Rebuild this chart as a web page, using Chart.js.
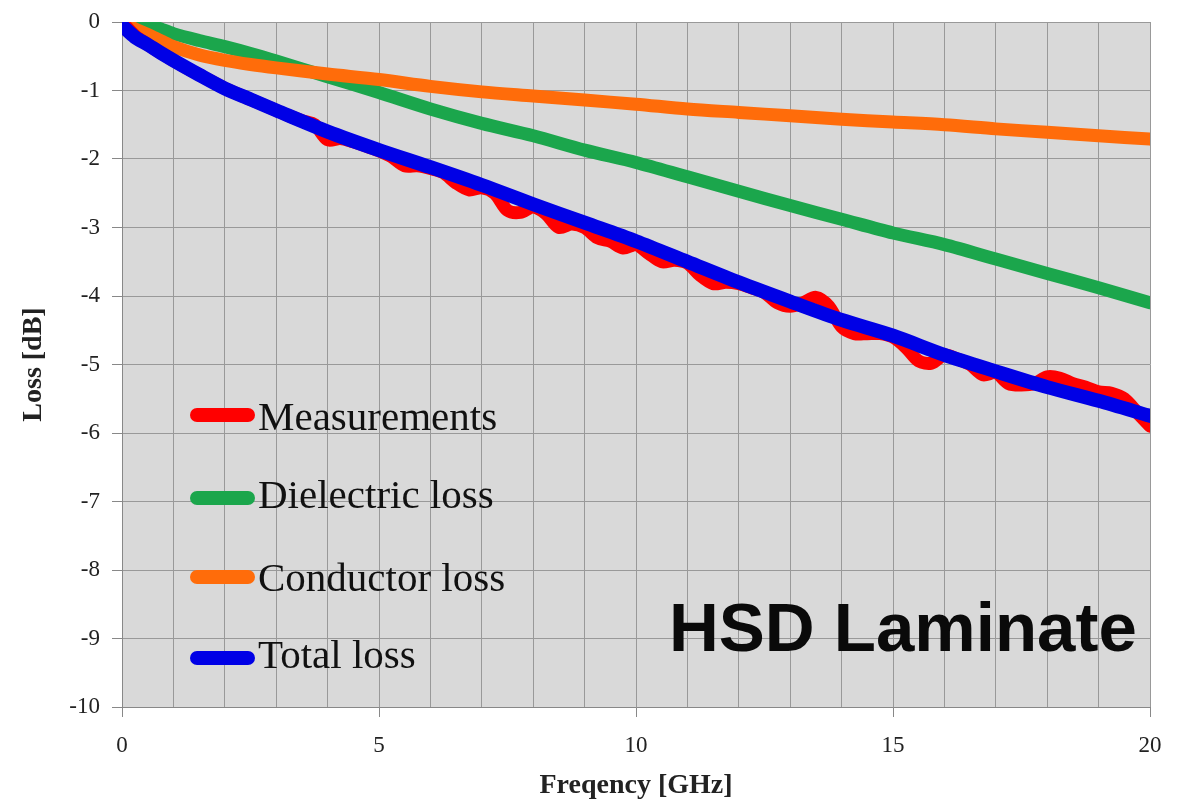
<!DOCTYPE html>
<html>
<head>
<meta charset="utf-8">
<script src="https://cdn.jsdelivr.net/npm/chart.js@4.4.1/dist/chart.umd.min.js"></script>
<style>
  html, body { margin: 0; padding: 0; background: #fff; }
  #wrap { position: relative; width: 1183px; height: 801px; overflow: hidden; }
  #chart { position: absolute; left: 0; top: 0; }
  .leg-line { position: absolute; left: 190px; width: 65px; height: 14px; border-radius: 7px; }
  .leg-text { position: absolute; left: 258px; font: 41px/1 'Liberation Serif', serif; color: #111; white-space: nowrap; }
  #label { position: absolute; left: 669px; top: 593px; font: bold 69px/1 'Liberation Sans', Arial, sans-serif; color: #0a0a0a; white-space: nowrap; }
</style>
</head>
<body>
<div id="wrap">
  <canvas id="chart" width="1183" height="801"></canvas>
  <div class="leg-line" style="top:408px;background:#ff0000"></div>
  <div class="leg-text" style="top:396px">Measurements</div>
  <div class="leg-line" style="top:491px;background:#1ba64c"></div>
  <div class="leg-text" style="top:474px">Dielectric loss</div>
  <div class="leg-line" style="top:570px;background:#ff6c0a"></div>
  <div class="leg-text" style="top:557px">Conductor loss</div>
  <div class="leg-line" style="top:651px;background:#0000e6"></div>
  <div class="leg-text" style="top:634px">Total loss</div>
  <div id="label">HSD Laminate</div>
</div>
<script>
// Model curves (GHz / dB)
const freqModel = [0, 0.25, 0.5, 0.75, 1, 1.5, 2, 2.5, 3, 4, 5, 6, 7, 8, 9, 10, 11, 12, 13, 14, 15, 16, 17, 18, 19, 20];
const totalLoss = [-0.05, -0.22, -0.33, -0.45, -0.56, -0.77, -0.97, -1.13, -1.29, -1.6, -1.87, -2.12, -2.38, -2.66, -2.93, -3.2, -3.5, -3.8, -4.08, -4.35, -4.58, -4.86, -5.1, -5.33, -5.53, -5.75];
const dielectricLoss = [0, 0, -0.03, -0.1, -0.17, -0.27, -0.36, -0.46, -0.57, -0.8, -1.03, -1.27, -1.48, -1.66, -1.87, -2.05, -2.26, -2.47, -2.68, -2.88, -3.08, -3.25, -3.46, -3.67, -3.88, -4.1];
const conductorLoss = [0, -0.1, -0.18, -0.27, -0.36, -0.48, -0.56, -0.62, -0.67, -0.76, -0.84, -0.94, -1.02, -1.08, -1.14, -1.2, -1.27, -1.32, -1.37, -1.42, -1.46, -1.5, -1.56, -1.61, -1.66, -1.71];

// Measured data
const freqMeas = [0, 0.25, 0.5, 0.75, 1, 1.25, 1.5, 1.75, 2, 2.25, 2.5, 2.75, 3, 3.25, 3.5, 3.75,
  4, 4.25, 4.5, 4.75, 5, 5.25, 5.5, 5.75, 6, 6.25, 6.5, 6.75, 7, 7.25, 7.5, 7.75,
  8, 8.25, 8.5, 8.75, 9, 9.25, 9.5, 9.75, 10, 10.25, 10.5, 10.75, 11, 11.25, 11.5, 11.75,
  12, 12.25, 12.5, 12.75, 13, 13.25, 13.5, 13.75, 14, 14.25, 14.5, 14.75, 15, 15.25, 15.5, 15.75,
  16, 16.25, 16.5, 16.75, 17, 17.25, 17.5, 17.75, 18, 18.25, 18.5, 18.75, 19, 19.25, 19.5, 19.75, 20];
const measured = [0, -0.2, -0.33, -0.45, -0.56, -0.67, -0.77, -0.87, -0.97, -1.05, -1.13, -1.21, -1.29, -1.37, -1.44, -1.5,
  -1.72, -1.7, -1.75, -1.81, -1.88, -1.97, -2.1, -2.1, -2.14, -2.2, -2.35, -2.45, -2.42, -2.5, -2.75, -2.78,
  -2.7, -2.8, -3.0, -2.95, -3.0, -3.15, -3.2, -3.3, -3.25, -3.38, -3.5, -3.48, -3.52, -3.7, -3.82, -3.8,
  -3.82, -3.88, -3.95, -4.1, -4.15, -4.1, -4.02, -4.15, -4.45, -4.55, -4.55, -4.55, -4.6, -4.75, -4.95, -4.98,
  -4.86, -4.92, -5.0, -5.15, -5.12, -5.28, -5.3, -5.28, -5.18, -5.2, -5.28, -5.33, -5.4, -5.42, -5.5, -5.7, -5.9];

const yTicks = [0, -1, -2, -3, -4, -5, -6, -7, -8, -9, -10];
const xLabelTicks = [0, 5, 10, 15, 20];

function pts(xs, ys) {
  return xs.map((x, i) => ({ x: x, y: ys[i] }));
}

function lineSet(label, xs, ys, color, width) {
  return {
    label: label,
    data: pts(xs, ys),
    borderColor: color,
    backgroundColor: color,
    borderWidth: width,
    borderCapStyle: 'round',
    borderJoinStyle: 'round',
    pointRadius: 0,
    tension: 0.3,
    fill: false
  };
}

// grey plot background
const plotBg = {
  id: 'plotBg',
  beforeDraw(chart) {
    const a = chart.chartArea;
    const c = chart.ctx;
    c.save();
    c.fillStyle = '#d9d9d9';
    c.fillRect(a.left, a.top, a.right - a.left, a.bottom - a.top);
    c.restore();
  }
};

const tickFont = { family: "'Liberation Serif', serif", size: 23 };
const titleFont = { family: "'Liberation Serif', serif", size: 28, weight: 'bold', lineHeight: 1 };

new Chart(document.getElementById('chart'), {
  type: 'line',
  data: {
    datasets: [
      lineSet('Total loss', freqModel, totalLoss, '#0000e6', 14),
      lineSet('Measurements', freqMeas, measured, '#ff0000', 13),
      lineSet('Conductor loss', freqModel, conductorLoss, '#ff6c0a', 13),
      lineSet('Dielectric loss', freqModel, dielectricLoss, '#1ba64c', 13)
    ]
  },
  options: {
    responsive: false,
    animation: false,
    layout: { padding: { top: 22, right: 33, left: 0, bottom: 0 } },
    plugins: { legend: { display: false }, tooltip: { enabled: false } },
    scales: {
      x: {
        type: 'linear',
        min: 0,
        max: 20,
        afterFit(scale) { scale.height = 94; },
        ticks: {
          stepSize: 1,
          autoSkip: false,
          maxRotation: 0,
          padding: 15,
          color: '#222',
          font: tickFont,
          callback: v => xLabelTicks.includes(v) ? String(v) : ''
        },
        grid: {
          color: '#999',
          lineWidth: 1,
          tickLength: 10,
          tickColor: ctx => xLabelTicks.includes(ctx.tick.value) ? '#888' : 'rgba(0,0,0,0)'
        },
        border: { color: '#888', width: 1 },
        title: {
          display: true,
          text: 'Freqency [GHz]',
          color: '#222',
          font: titleFont,
          padding: { top: 0, bottom: 1 }
        }
      },
      y: {
        min: -10,
        max: 0,
        afterFit(scale) {
          scale.width = 122;
          scale.paddingTop = 0;
          scale.paddingBottom = 0;
        },
        afterBuildTicks(scale) { scale.ticks = yTicks.map(v => ({ value: v })); },
        ticks: {
          padding: 12,
          color: '#222',
          font: tickFont
        },
        grid: { color: '#999', lineWidth: 1, tickLength: 10, tickColor: '#888' },
        border: { color: '#888', width: 1 },
        title: {
          display: true,
          text: 'Loss [dB]',
          color: '#222',
          font: titleFont,
          padding: { top: 20, bottom: 0 }
        }
      }
    }
  },
  plugins: [plotBg]
});
</script>
</body>
</html>
